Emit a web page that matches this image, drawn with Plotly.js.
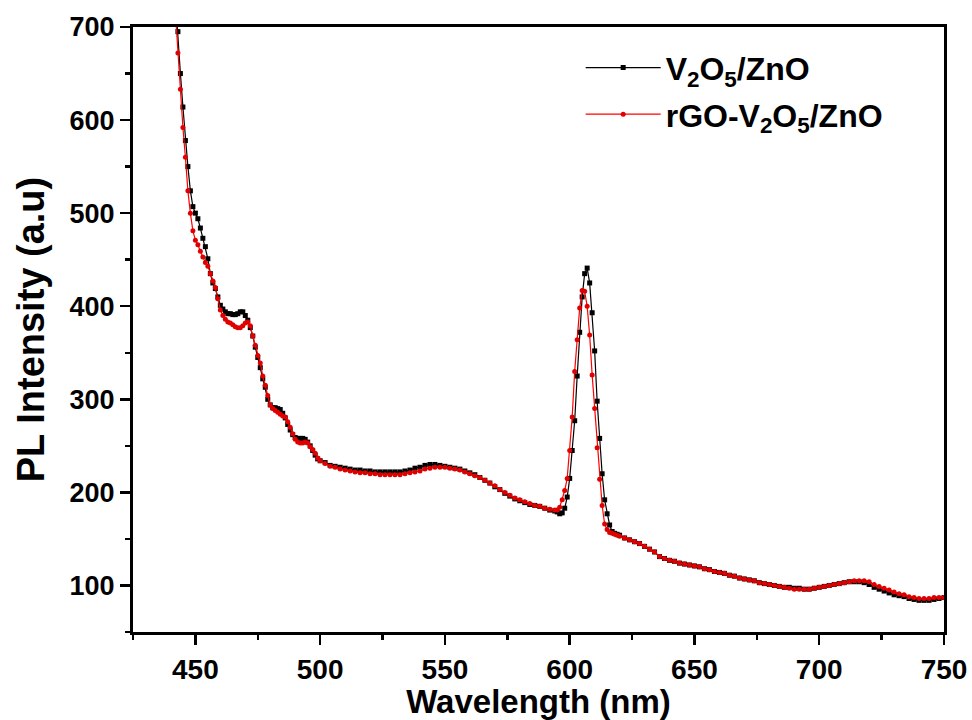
<!DOCTYPE html>
<html>
<head>
<meta charset="utf-8">
<script src="https://cdn.plot.ly/plotly-3.0.1.min.js"></script>
<style>html,body{margin:0;padding:0;background:#fff;}#chart{width:972px;height:720px;}</style>
</head>
<body>
<div id="chart"></div>
<script>
// Wavelength (nm)
const wavelength = [
442,443,444,445,446,447,448,449,450,451,452,453,454,455,456,457,458,459,460,
461,462,463,464,465,466,467,468,469,470,471,472,473,474,475,476,477,478,479,480,
481,482,483,484,485,486,487,488,489,490,491,492,493,494,495,496,497,498,499,500,
502,504,506,508,510,512,514,516,518,520,522,524,526,528,530,532,534,536,538,540,
542,544,546,548,550,552,554,556,558,560,562,564,566,568,570,572,574,576,578,580,
582,584,586,588,590,592,594,
595,596,597,598,599,600,601,602,603,604,605,606,607,608,609,610,611,612,613,614,
615,616,617,618,619,620,
622,624,626,628,630,632,634,636,638,640,642,644,646,648,650,652,654,656,658,660,
662,664,666,668,670,672,674,676,678,680,682,684,686,688,690,692,694,696,698,700,
702,704,706,708,710,712,714,716,718,720,722,724,726,728,730,732,734,736,738,740,
742,744,746,748,750
];

// V2O5/ZnO PL intensity
const v2o5ZnO = [
730,695,650,614,578,550,524,507,500,494,484,473,464,451,435,425,419,410,401,
397,394,392,392,391,391,392,394,394,390,385,377,368,356,345,334,322,313,300,294,
291,291,290,289,285,280,273,267,262,259,258,258,258,257,254,250,245,240,236,234,
232,229,228,227,226,225,224,224,223,223,222,222,222,222,222,222,223,224,226,227,
229,230,230,229,228,227,226,225,223,221,219,216,213,210,206,203,199,196,193,191,
189,187,186,185,183,181,180,
179,177,178,183,195,215,245,277,325,372,410,435,441,425,393,352,298,258,220,192,
177,165,158,156,155,154,
151,149,147,145,142,139,136,131,129,127,126,124,123,122,121,120,118,117,115,114,
113,111,110,108,107,106,105,103,102,101,100,99,98,98,97,97,96,96,97,98,
99,100,101,102,103,104,104,104,103,101,98,96,94,92,90,89,88,86,85,84,
84,84,85,86,87
];

// rGO-V2O5/ZnO PL intensity
const rgoV2o5ZnO = [
715,672,633,592,560,524,500,481,471,466,459,453,447,443,435,427,420,408,396,
390,386,383,382,380,378,377,377,379,382,383,379,368,358,347,339,325,315,304,294,
290,288,286,284,282,281,276,270,263,257,254,253,253,254,253,249,246,242,237,234,
231,228,227,225,224,223,222,221,221,220,220,219,219,219,219,219,220,221,222,223,
225,226,227,227,227,226,225,224,222,220,218,216,213,210,207,203,200,197,194,192,
190,188,186,185,183,182,181,
181,184,192,202,215,245,281,330,364,398,417,416,400,369,326,290,248,214,186,166,
160,157,156,155,154,153,
151,149,147,145,142,139,136,131,129,127,126,124,123,122,121,120,118,117,115,114,
113,111,110,108,107,106,105,103,102,101,100,99,98,97,96,96,96,96,97,98,
99,100,101,102,103,104,105,105,105,104,101,99,97,95,93,91,90,88,87,86,
86,86,87,87,87
];

const seriesNames = ['V<sub>2</sub>O<sub>5</sub>/ZnO', 'rGO-V<sub>2</sub>O<sub>5</sub>/ZnO'];

const FONT = 'Liberation Sans, Arial, Helvetica, sans-serif';

const traces = [
  {
    x: wavelength, y: v2o5ZnO, name: seriesNames[0], type: 'scatter', mode: 'lines+markers',
    legendgroup: 'a',
    line: {color: '#000000', width: 1.2},
    marker: {symbol: 'square', size: 5, color: '#000000'}
  },
  {
    x: wavelength, y: rgoV2o5ZnO, name: seriesNames[1], type: 'scatter', mode: 'lines+markers',
    legendgroup: 'b',
    line: {color: '#ff0000', width: 1.2},
    marker: {symbol: 'circle', size: 5, color: '#e00000'}
  }
];

const layout = {
  width: 972, height: 720,
  margin: {l: 133, r: 28, t: 27, b: 88},
  paper_bgcolor: '#ffffff', plot_bgcolor: '#ffffff',
  font: {family: FONT, color: '#000000'},
  showlegend: true,
  legend: {
    x: 0.552, y: 0.978, xanchor: 'left', yanchor: 'top',
    bgcolor: 'rgba(0,0,0,0)', borderwidth: 0,
    font: {family: FONT, size: 32, weight: 'bold', color: '#000'},
    traceorder: 'grouped', tracegroupgap: 2, itemwidth: 75
  },
  xaxis: {
    range: [425, 750], dtick: 50, tick0: 0,
    ticks: 'outside', ticklen: 10, tickwidth: 2.5, tickcolor: '#000',
    minor: {dtick: 25, ticks: 'outside', ticklen: 5, tickwidth: 2.5, tickcolor: '#000'},
    showline: true, linewidth: 3, linecolor: '#000', mirror: true,
    showgrid: false, zeroline: false,
    tickfont: {family: FONT, size: 28, weight: 'bold', color: '#000'},
    title: {text: 'Wavelength (nm)', standoff: 6,
            font: {family: FONT, size: 33, weight: 'bold', color: '#000'}}
  },
  yaxis: {
    range: [50, 700], dtick: 100, tick0: 0,
    ticks: 'outside', ticklen: 10, tickwidth: 2.5, tickcolor: '#000',
    minor: {dtick: 50, ticks: 'outside', ticklen: 5, tickwidth: 2.5, tickcolor: '#000'},
    showline: true, linewidth: 3, linecolor: '#000', mirror: true,
    showgrid: false, zeroline: false,
    tickfont: {family: FONT, size: 27, weight: 'bold', color: '#000'},
    title: {text: 'PL Intensity (a.u)', standoff: 14,
            font: {family: FONT, size: 38, weight: 'bold', color: '#000'}}
  }
};

Plotly.newPlot('chart', traces, layout, {displayModeBar: false, staticPlot: true});
</script>
</body>
</html>
